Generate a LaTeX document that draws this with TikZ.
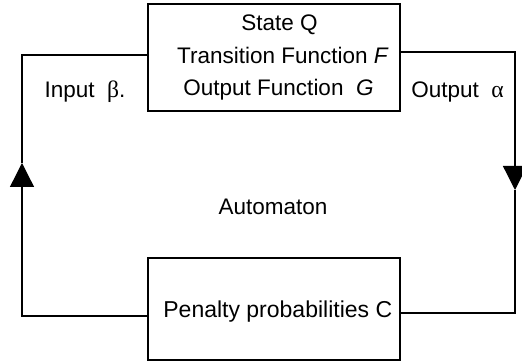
\documentclass[tikz,border=0pt]{standalone}
\usepackage{fontspec}
\setmainfont{Liberation Sans}
\newfontfamily\greekfont[Scale=1.05]{Liberation Serif}
\usetikzlibrary{arrows.meta}
\begin{document}
\begin{tikzpicture}[x=1pt,y=1pt,
  box/.style={draw, line width=1.3pt, minimum width=252pt, inner sep=0pt},
  lbl/.style={anchor=base, inner sep=0pt, font=\fontsize{22.5}{26}\selectfont},
  wire/.style={line width=1.3pt},
  tiparrow/.style={-{Triangle[width=24pt,length=24pt]}}]
\useasboundingbox (0,0) rectangle (522,363);
% boxes
\node[box, minimum height=107pt] (top) at (274,305.5) {};
\node[box, minimum height=102pt] (bottom) at (274,54) {};
% texts
\node[lbl] (state) at (279.5,332) {State Q};
\node[lbl] (trans) at (283,299.7) {Transition Function \textit{F}};
\node[lbl] (outf) at (278.5,267) {Output Function~ \textit{G}};
\node[lbl] (input) at (85,265.5) {Input~ {\greekfont β}.};
\node[lbl] (output) at (457.5,265.5) {Output~ {\greekfont α}};
\node[lbl] (auto) at (273,148.7) {Automaton};
\node[lbl, font=\fontsize{23}{27}\selectfont] (pen) at (277.8,45.5) {Penalty probabilities C};
% corners
\coordinate (tl) at (22,308);
\coordinate (bl) at (22,47);
\coordinate (la) at (22,200);
\coordinate (tr) at (515,311);
\coordinate (br) at (515,50);
\coordinate (ra) at (515,173);
% connectors
\draw[wire,tiparrow] (bottom.west |- bl) -- (bl) -- (la);
\draw[wire] (la) -- (tl) -- (top.west |- tl);
\draw[wire,tiparrow] (top.east |- tr) -- (tr) -- (ra);
\draw[wire] (ra) -- (br) -- (bottom.east |- br);
\end{tikzpicture}
\end{document}
